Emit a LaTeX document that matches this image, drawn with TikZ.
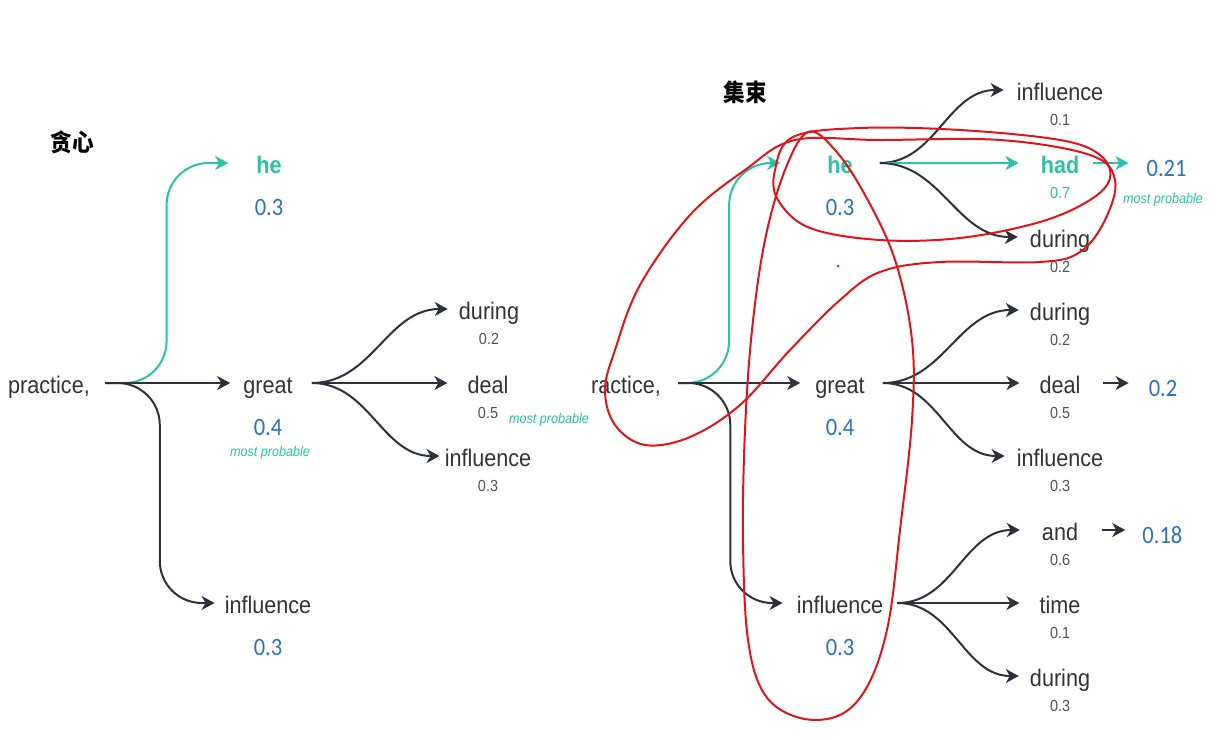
\documentclass[tikz,border=0pt]{standalone}
\usepackage{graphicx}
\usepackage{fontspec}
\setmainfont{Liberation Sans}[FakeStretch=0.9]
\newfontfamily\probfont{Carlito}[FakeStretch=0.9]
\newfontfamily\cjkfont{Noto Sans CJK SC}[FakeStretch=0.9]
\usetikzlibrary{positioning,arrows.meta,calc}

\definecolor{beamgreen}{HTML}{2BC3A3}
\definecolor{probblue}{HTML}{2E73B8}
\definecolor{inkgray}{HTML}{333333}
\definecolor{linkgray}{HTML}{2D313B}
\definecolor{markred}{HTML}{E3131B}

\tikzset{
	word/.style={font=\fontsize{24}{28}\selectfont, text=inkgray, inner sep=0pt,
		text height=21pt, text depth=0pt},
	hotword/.style={word, font=\fontsize{24}{28}\selectfont\bfseries, text=beamgreen},
	bigprob/.style={font=\probfont\fontsize{25}{28}\selectfont, text=probblue,
		inner sep=0pt, text height=26pt, text depth=0pt},
	smallprob/.style={font=\fontsize{16}{18}\selectfont, text=inkgray!85, inner sep=0pt,
		text height=12pt, text depth=0pt},
	best/.style={font=\fontsize{14}{16}\selectfont\itshape, text=beamgreen, inner sep=0pt,
		anchor=base},
	title/.style={font=\cjkfont\fontsize{24}{26}\selectfont\bfseries, text=black},
	link/.style={draw=linkgray, line width=2pt,
		-{Stealth[length=13pt,width=14pt,inset=4pt]}},
	hotlink/.style={link, draw=beamgreen},
	elbow/.style={rounded corners=42pt},
	ink/.style={draw=markred, line width=2pt, line join=round, line cap=round}
}

\begin{document}
\begin{tikzpicture}[x=1pt,y=-1pt]
	\fill[white] (0,0) rectangle (1220,739);
	\useasboundingbox (0,0) rectangle (1220,739);
	
	% greedy search
	\node[title] (titleG) at (72,142) {贪心};
	\node[word] (pracG) at (49,383) {practice,};
	\node[hotword] (heG) at (269,163) {he};
	\node[word] (greatG) at (268,383) {great};
	\node[word] (inflG) at (268,603) {influence};
	\node[bigprob, below=16pt of heG] (heGp) {0.3};
	\node[bigprob, below=16pt of greatG] (greatGp) {0.4};
	\node[bigprob, below=16pt of inflG] (inflGp) {0.3};
	\node[best] (bestGa) at (270,456) {most probable};
	
	\node[word] (duringG) at (489,309) {during};
	\node[word] (dealG) at (488,383) {deal};
	\node[word] (inflGG) at (488,456) {influence};
	\node[smallprob, below=13pt of duringG] (duringGp) {0.2};
	\node[smallprob, below=13pt of dealG] (dealGp) {0.5};
	\node[smallprob, below=13pt of inflGG] (inflGGp) {0.3};
	\node[best] (bestGb) at (549,423) {most probable};
	
	\coordinate (forkG) at ([xshift=15pt]pracG.east);
	\coordinate (forkGg) at ([xshift=19pt]greatG.east);
	\coordinate (tipGh) at ([xshift=-28pt]heG.west);
	\coordinate (tipGi) at ([xshift=-10pt]inflG.west);
	
	\draw[hotlink, elbow] (forkG) -| ($(forkG)!0.5!(tipGh)$) |- (tipGh);
	\draw[link] (forkG) -- ([xshift=-13pt]greatG.west);
	\draw[link, elbow] (forkG) -| ($(forkG)!0.5!(tipGi)$) |- (tipGi);
	
	\draw[link] (forkGg) to[out=0,in=180] ([xshift=-11pt]duringG.west);
	\draw[link] (forkGg) -- ([xshift=-20pt]dealG.west);
	\draw[link] (forkGg) to[out=0,in=180] ([xshift=-5pt]inflGG.west);
	
	% beam search
	\node[title] (titleB) at (745,92) {集束};
	\node[word] (pracB) at (626,383) {ractice,};
	\node[hotword] (heB) at (840,163) {he};
	\node[word] (greatB) at (840,383) {great};
	\node[word] (inflB) at (840,603) {influence};
	\node[bigprob, below=16pt of heB] (heBp) {0.3};
	\node[bigprob, below=16pt of greatB] (greatBp) {0.4};
	\node[bigprob, below=16pt of inflB] (inflBp) {0.3};
	
	\node[word] (inflBh) at (1060,90) {influence};
	\node[hotword] (hadB) at (1060,163) {had};
	\node[word] (duringBh) at (1060,237) {during};
	\node[smallprob, below=13pt of inflBh] (inflBhp) {0.1};
	\node[smallprob, below=13pt of hadB, text=beamgreen] (hadBp) {0.7};
	\node[smallprob, below=13pt of duringBh] (duringBhp) {0.2};
	\node[bigprob, right=67pt of hadB] (sumHad) {0.21};
	\node[best] (bestB) at (1163,203) {most probable};
	
	\node[word] (duringBg) at (1060,310) {during};
	\node[word] (dealB) at (1060,383) {deal};
	\node[word] (inflBg) at (1060,456) {influence};
	\node[smallprob, below=13pt of duringBg] (duringBgp) {0.2};
	\node[smallprob, below=13pt of dealB] (dealBp) {0.5};
	\node[smallprob, below=13pt of inflBg] (inflBgp) {0.3};
	\node[bigprob, right=68pt of dealB] (sumDeal) {0.2};
	
	\node[word] (andB) at (1060,530) {and};
	\node[word] (timeB) at (1060,603) {time};
	\node[word] (duringBi) at (1060,676) {during};
	\node[smallprob, below=13pt of andB] (andBp) {0.6};
	\node[smallprob, below=13pt of timeB] (timeBp) {0.1};
	\node[smallprob, below=13pt of duringBi] (duringBip) {0.3};
	\node[bigprob, right=64pt of andB] (sumAnd) {0.18};
	
	\coordinate (forkB) at ([xshift=17pt]pracB.east);
	\coordinate (forkBh) at ([xshift=27pt]heB.east);
	\coordinate (forkBg) at ([xshift=18pt]greatB.east);
	\coordinate (forkBi) at ([xshift=14pt]inflB.east);
	\coordinate (tipBh) at ([xshift=-47pt]heB.west);
	\coordinate (tipBi) at ([xshift=-14pt]inflB.west);
	
	\draw[hotlink, elbow] (forkB) -| ($(forkB)!0.5!(tipBh)$) |- (tipBh);
	\draw[link] (forkB) -- ([xshift=-15pt]greatB.west);
	\draw[link, elbow] (forkB) -| ($(forkB)!0.5!(tipBi)$) |- (tipBi);
	
	\draw[link] (forkBh) to[out=0,in=180] ([xshift=-13pt]inflBh.west);
	\draw[hotlink] (forkBh) -- ([xshift=-22pt]hadB.west);
	\draw[link] (forkBh) to[out=0,in=180] ([xshift=-12pt]duringBh.west);
	\draw[hotlink] ([xshift=14pt]hadB.east) -- ([xshift=-18pt]sumHad.west);
	
	\draw[link] (forkBg) to[out=0,in=180] ([xshift=-11pt]duringBg.west);
	\draw[link] (forkBg) -- ([xshift=-20pt]dealB.west);
	\draw[link] (forkBg) to[out=0,in=180] ([xshift=-12pt]inflBg.west);
	\draw[link] ([xshift=22pt]dealB.east) -- ([xshift=-20pt]sumDeal.west);
	
	\draw[link] (forkBi) to[out=0,in=180] ([xshift=-22pt]andB.west);
	\draw[link] (forkBi) -- ([xshift=-20pt]timeB.west);
	\draw[link] (forkBi) to[out=0,in=180] ([xshift=-11pt]duringBi.west);
	\draw[link] ([xshift=24pt]andB.east) -- ([xshift=-17pt]sumAnd.west);
	
	% red pen marks
	\draw[ink] plot[smooth cycle, tension=0.6] coordinates {(793,137) (860,128)
		(960,130) (1060,140) (1100,155) (1110,178) (1090,200) (1040,222) (960,238)
		(880,240) (810,228) (778,200) (775,170)};
	\draw[ink] plot[smooth cycle, tension=0.6] coordinates {(615,350) (640,285)
		(690,215) (745,170) (795,140) (880,140) (1000,140) (1090,155) (1115,180)
		(1105,220) (1080,252) (1040,262) (940,262) (880,272) (840,300) (790,350)
		(740,405) (690,437) (645,445) (615,425) (605,390)};
	\draw[ink] plot[smooth cycle, tension=0.6] coordinates {(808,132) (785,170)
		(765,240) (752,330) (745,430) (743,540) (748,640) (765,695) (800,718)
		(840,715) (868,685) (888,625) (900,530) (912,420) (912,340) (895,260)
		(865,195) (835,150)};
	\fill[markred] (838,266) circle (1.3);
\end{tikzpicture}
\end{document}
